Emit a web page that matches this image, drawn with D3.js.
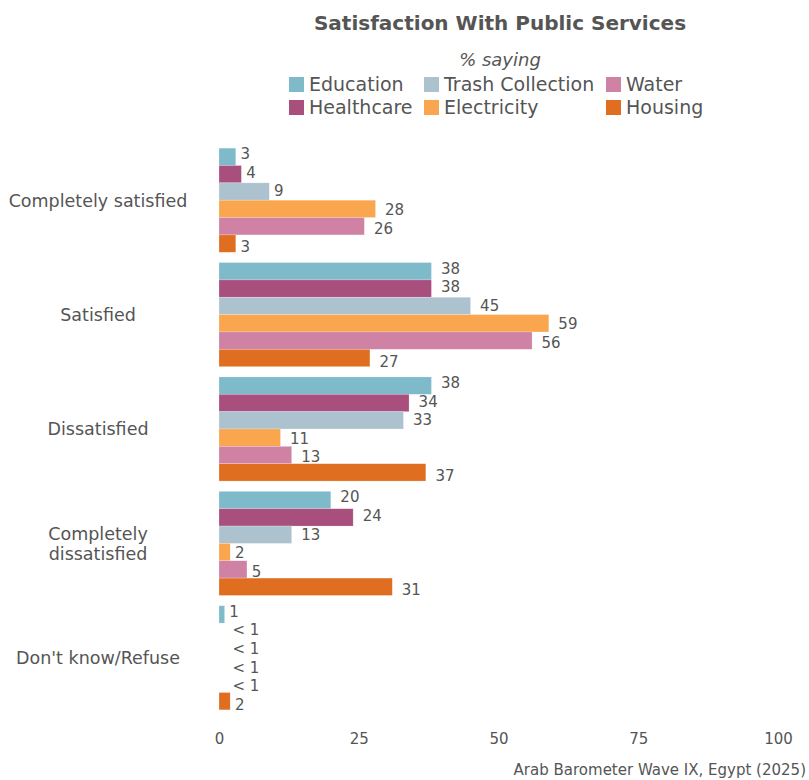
<!DOCTYPE html>
<html>
<head>
<meta charset="utf-8">
<script src="https://cdn.jsdelivr.net/npm/d3@7"></script>
<style>
  body { margin: 0; background: #fff; }
  svg text { font-family: "DejaVu Sans", sans-serif; fill: #555; }
</style>
</head>
<body>
<svg id="chart" width="809" height="780"></svg>
<script>
// Response categories (rows) and services (bars within each row)
const categories = ["Completely satisfied", "Satisfied", "Dissatisfied", "Completely dissatisfied", "Don't know/Refuse"];
const categoryLines = [["Completely satisfied"], ["Satisfied"], ["Dissatisfied"], ["Completely", "dissatisfied"], ["Don't know/Refuse"]];
const services = ["Education", "Healthcare", "Trash Collection", "Electricity", "Water", "Housing"];

// Percent saying, one array per service, in category order
const education   = [3, 38, 38, 20, 1];
const healthcare  = [4, 38, 34, 24, 0];
const trash       = [9, 45, 33, 13, 0];
const electricity = [28, 59, 11, 2, 0];
const water       = [26, 56, 13, 5, 0];
const housing     = [3, 27, 37, 31, 2];
const seriesValues = [education, healthcare, trash, electricity, water, housing];

const colors = ["#7ebac9", "#a94f7e", "#adc2cf", "#f9a64f", "#cf82a3", "#e06e21"];
const xTicks = [0, 25, 50, 75, 100];

const svg = d3.select("#chart");

const x = d3.scaleLinear().domain([0, 100]).range([219, 778]);
const y = d3.scaleBand().domain(categories).range([143, 715]).paddingInner(0.09).paddingOuter(0.045);
const y1 = d3.scaleBand().domain(services).range([0, y.bandwidth()]);
const color = d3.scaleOrdinal().domain(services).range(colors);

const rows = [];
categories.forEach((c, ci) => {
  services.forEach((s, si) => {
    rows.push({ category: c, service: s, si: si, value: seriesValues[si][ci] });
  });
});

const fmt = v => v < 1 ? "< 1" : String(v);

// Bars
const g = svg.append("g");
g.selectAll("rect").data(rows).join("rect")
  .attr("x", x(0))
  .attr("y", d => y(d.category) + y1(d.service))
  .attr("width", d => x(d.value) - x(0))
  .attr("height", y1.bandwidth())
  .attr("fill", d => color(d.service))
  .attr("stroke", "#fff").attr("stroke-opacity", 0.35).attr("stroke-width", 0.6);

// Value labels: spaced slightly wider than the bars so they never collide,
// and pushed right of the bar end by half their own width
const labelGap = 18.6;
g.selectAll("text.val").data(rows).join("text")
  .attr("class", "val")
  .attr("y", d => y(d.category) + y.bandwidth() / 2 + (d.si - (services.length - 1) / 2) * labelGap)
  .attr("dy", "0.36em")
  .style("font-size", "15px")
  .text(d => fmt(d.value))
  .attr("x", function(d) { return x(d.value) + this.getComputedTextLength() * 0.5; });

// Category labels
const cat = svg.append("g");
categories.forEach((c, ci) => {
  const lines = categoryLines[ci];
  const cy = y(c) + y.bandwidth() / 2;
  const lh = 20;
  lines.forEach((ln, li) => {
    cat.append("text")
      .attr("x", 98)
      .attr("y", cy + (li - (lines.length - 1) / 2) * lh)
      .attr("dy", "0.36em")
      .attr("text-anchor", "middle")
      .style("font-size", "17.5px")
      .text(ln);
  });
});

// X axis tick labels
const xAxis = d3.axisBottom(x).tickValues(xTicks).tickSize(0).tickPadding(0);
const ax = svg.append("g").attr("transform", "translate(0,733)").call(xAxis);
ax.select(".domain").remove();
ax.selectAll("text").style("font-size", "15px").style("font-family", "\"DejaVu Sans\", sans-serif").attr("fill", "#555");

// Title and subtitle
svg.append("text").attr("x", 500).attr("y", 30).attr("text-anchor", "middle")
  .style("font-size", "20px").style("font-weight", "bold").text("Satisfaction With Public Services");
svg.append("text").attr("x", 500).attr("y", 66).attr("text-anchor", "middle")
  .style("font-size", "18px").style("font-style", "italic").text("% saying");

// Legend, three columns filled top to bottom
const colX = [289, 424, 606];
const rowY = [77, 100];
const leg = svg.append("g");
services.forEach((s, i) => {
  const col = Math.floor(i / 2), row = i % 2;
  const item = leg.append("g").attr("transform", `translate(${colX[col]},${rowY[row]})`);
  item.append("rect").attr("width", 15).attr("height", 15).attr("fill", color(s));
  item.append("text").attr("x", 20).attr("y", 7.5).attr("dy", "0.36em")
    .style("font-size", "19px").text(s);
});

// Caption
svg.append("text").attr("x", 806).attr("y", 775).attr("text-anchor", "end")
  .style("font-size", "15px").text("Arab Barometer Wave IX, Egypt (2025)");
</script>
</body>
</html>
